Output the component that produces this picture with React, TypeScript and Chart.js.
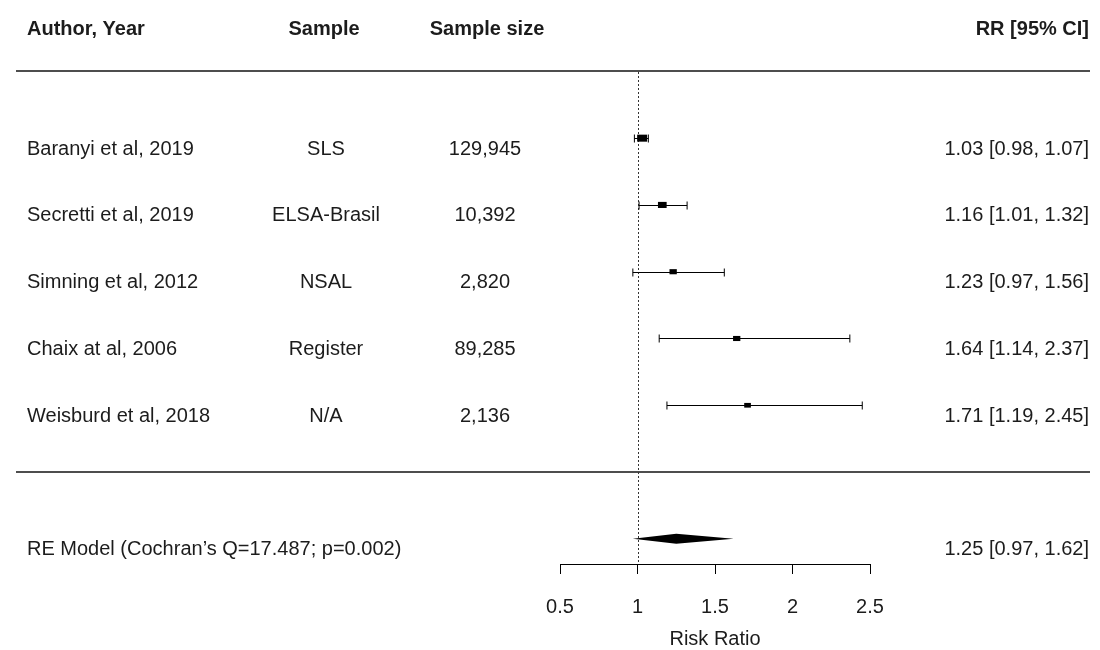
import React, { useEffect, useRef } from 'react';
import { Chart, registerables } from 'chart.js';

Chart.register(...registerables);

// ---- data ----
const headers = ['Author, Year', 'Sample', 'Sample size', 'RR [95% CI]'];
const studies = [
  'Baranyi et al, 2019',
  'Secretti et al, 2019',
  'Simning et al, 2012',
  'Chaix at al, 2006',
  'Weisburd et al, 2018',
];
const samples = ['SLS', 'ELSA-Brasil', 'NSAL', 'Register', 'N/A'];
const sampleSizes = ['129,945', '10,392', '2,820', '89,285', '2,136'];
const riskRatios = [1.03, 1.16, 1.23, 1.64, 1.71];
const ciLower = [0.98, 1.01, 0.97, 1.14, 1.19];
const ciUpper = [1.07, 1.32, 1.56, 2.37, 2.45];
const weights = [30.6, 23.1, 16.4, 16.2, 13.7];
const summaryLabel = 'RE Model (Cochran\u2019s Q=17.487; p=0.002)';
const summaryValues = [1.25, 0.97, 1.62]; // estimate, lower, upper
const tickValues = [0.5, 1, 1.5, 2, 2.5];
const tickLabels = ['0.5', '1', '1.5', '2', '2.5'];
const xTitle = 'Risk Ratio';

const FONT = '"Liberation Sans", Arial, Helvetica, sans-serif';
const TEXT = '#1c1c1c';

const fmt = (e: number, l: number, u: number) =>
  `${e.toFixed(2)} [${l.toFixed(2)}, ${u.toFixed(2)}]`;

const forestPlugin = {
  id: 'forest',
  afterDatasetsDraw(chart: any) {
    const { ctx, scales } = chart;
    const xs = scales.x;
    const ys = scales.y;
    const X = (v: number) => xs.getPixelForValue(v);
    const Y = (k: number) => ys.getPixelForValue(k);
    const maxW = Math.max(...weights);
    const summaryRow = studies.length + 1;

    ctx.save();

    // horizontal rules
    ctx.strokeStyle = '#4e4e4e';
    ctx.lineWidth = 2;
    [-1, studies.length].forEach((k) => {
      const yy = Math.round(Y(k));
      ctx.beginPath();
      ctx.moveTo(16, yy);
      ctx.lineTo(1090, yy);
      ctx.stroke();
    });

    // reference line at RR = 1
    const rx = Math.round(X(1)) + 0.5;
    ctx.setLineDash([2, 2]);
    ctx.lineWidth = 1;
    ctx.strokeStyle = '#333';
    ctx.beginPath();
    ctx.moveTo(rx, Math.round(Y(-1)) + 1);
    ctx.lineTo(rx, chart.chartArea.bottom);
    ctx.stroke();
    ctx.setLineDash([]);

    // confidence intervals and squares
    ctx.strokeStyle = '#000';
    ctx.fillStyle = '#000';
    ctx.lineWidth = 1;
    riskRatios.forEach((r, i) => {
      const yy = Math.round(Y(i)) + 0.5;
      const l = X(ciLower[i]);
      const u = X(ciUpper[i]);
      ctx.beginPath();
      ctx.moveTo(l, yy);
      ctx.lineTo(u, yy);
      ctx.moveTo(l, yy - 4);
      ctx.lineTo(l, yy + 4);
      ctx.moveTo(u, yy - 4);
      ctx.lineTo(u, yy + 4);
      ctx.stroke();
      const w = 10 * Math.sqrt(weights[i] / maxW);
      const h = w * 0.7;
      ctx.fillRect(X(r) - w / 2, Y(i) - h / 2, w, h);
    });

    // summary diamond
    const sy = Y(summaryRow);
    ctx.beginPath();
    ctx.moveTo(X(summaryValues[1]), sy);
    ctx.lineTo(X(summaryValues[0]), sy - 5);
    ctx.lineTo(X(summaryValues[2]), sy);
    ctx.lineTo(X(summaryValues[0]), sy + 5);
    ctx.closePath();
    ctx.fill();

    // headers
    ctx.fillStyle = TEXT;
    ctx.textBaseline = 'alphabetic';
    ctx.font = `bold 20px ${FONT}`;
    const hy = Y(-1) - 36;
    ctx.textAlign = 'left';
    ctx.fillText(headers[0], 27, hy);
    ctx.textAlign = 'center';
    ctx.fillText(headers[1], 324, hy);
    ctx.fillText(headers[2], 487, hy);
    ctx.textAlign = 'right';
    ctx.fillText(headers[3], 1089, hy);

    // rows
    ctx.font = `20px ${FONT}`;
    studies.forEach((s, i) => {
      const by = Y(i) + 16.5;
      ctx.textAlign = 'left';
      ctx.fillText(s, 27, by);
      ctx.textAlign = 'center';
      ctx.fillText(samples[i], 326, by);
      ctx.fillText(sampleSizes[i], 485, by);
      ctx.textAlign = 'right';
      ctx.fillText(fmt(riskRatios[i], ciLower[i], ciUpper[i]), 1089, by);
    });

    // summary row text
    const sby = sy + 16.5;
    ctx.textAlign = 'left';
    ctx.fillText(summaryLabel, 27, sby);
    ctx.textAlign = 'right';
    ctx.fillText(fmt(summaryValues[0], summaryValues[1], summaryValues[2]), 1089, sby);

    ctx.restore();
  },
};

export default function App() {
  const ref = useRef<HTMLCanvasElement | null>(null);

  useEffect(() => {
    if (!ref.current) return;
    const chart = new Chart(ref.current, {
      type: 'scatter',
      data: {
        datasets: [
          {
            data: riskRatios.map((r, i) => ({ x: r, y: i })),
            pointRadius: 0,
            pointHoverRadius: 0,
          },
        ],
      },
      options: {
        responsive: false,
        animation: false,
        events: [],
        layout: { padding: { left: 560, right: 230, top: 0, bottom: 0 } },
        plugins: {
          legend: { display: false },
          tooltip: { enabled: false },
        },
        scales: {
          x: {
            type: 'linear',
            min: tickValues[0],
            max: tickValues[tickValues.length - 1],
            afterBuildTicks: (axis: any) => {
              axis.ticks = tickValues.map((v) => ({ value: v }));
            },
            ticks: {
              autoSkip: false,
              maxRotation: 0,
              padding: 21.5,
              color: TEXT,
              font: { family: FONT, size: 20, lineHeight: 1.2 },
              callback: (_v: any, idx: number) => tickLabels[idx],
            },
            grid: {
              display: true,
              drawOnChartArea: false,
              drawTicks: true,
              tickLength: 10,
              color: '#000',
              lineWidth: 1,
            },
            border: { display: true, color: '#000', width: 1 },
            title: {
              display: true,
              text: xTitle,
              color: TEXT,
              font: { family: FONT, size: 20, lineHeight: 1 },
              padding: { top: -12, bottom: 1 },
            },
          },
          y: {
            type: 'linear',
            display: false,
            reverse: true,
            min: -2.069,
            max: 6.377,
          },
        },
      },
      plugins: [forestPlugin],
    });
    return () => chart.destroy();
  }, []);

  return (
    <div style={{ position: 'absolute', left: 0, top: 0, width: 1100, height: 650, background: '#fff' }}>
      <canvas ref={ref} width={1100} height={650} />
    </div>
  );
}
